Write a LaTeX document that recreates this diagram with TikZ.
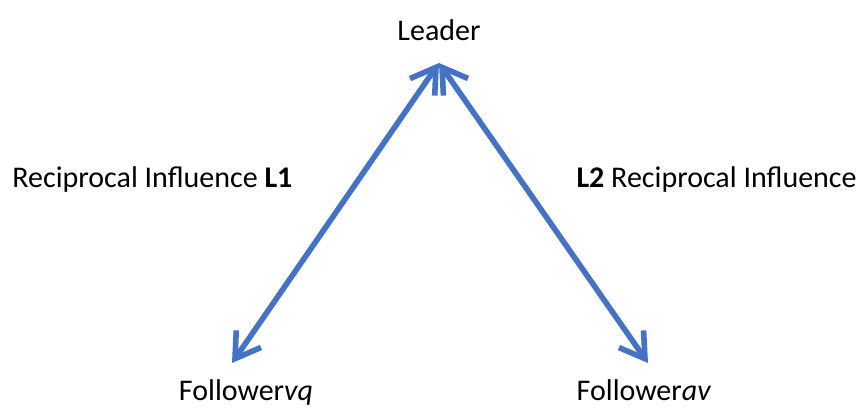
\documentclass[tikz,border=0pt]{standalone}
\usepackage{fontspec}
\setmainfont{Carlito}
\usepackage{xcolor}
\usetikzlibrary{arrows.meta, positioning}
\definecolor{linkblue}{HTML}{4472C4}
\tikzset{
  role/.style={inner sep=0pt, anchor=base, font=\fontsize{15}{18}\selectfont},
  infl/.style={inner sep=0pt, font=\fontsize{15}{18}\selectfont},
  biarrow/.style={{Straight Barb[length=12pt, width=15pt]}-{Straight Barb[length=12pt, width=15pt]},
    line width=2.8pt, draw=linkblue, line cap=round}
}

\begin{document}
\begin{tikzpicture}[x=0.5pt, y=-0.5pt]
  \useasboundingbox (0,0) rectangle (862,409);
  \node[role] (leader) at (439,40) {Leader};
  \node[role] (fvq) at (246,400) {Follower\textit{vq}};
  \node[role] (fav) at (644,400) {Follower\textit{av}};
  \node[infl, anchor=base west] (l1) at (12,187) {Reciprocal Influence \textbf{L1}};
  \node[infl, anchor=base east] (l2) at (857,187) {\textbf{L2} Reciprocal Influence};

  \coordinate (apex) at (439,63);
  \coordinate (tipvq) at (232,363);
  \coordinate (tipav) at (648,363);

  \draw[biarrow] (apex) -- (tipvq);
  \draw[biarrow] (apex) -- (tipav);
\end{tikzpicture}
\end{document}
